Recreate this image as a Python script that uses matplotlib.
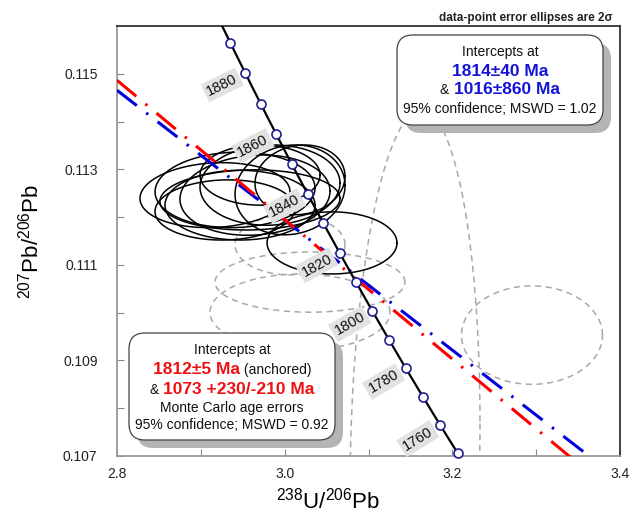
import numpy as np
import matplotlib
matplotlib.use('Agg')
import matplotlib.pyplot as plt
from matplotlib.patches import FancyBboxPatch
from matplotlib.ticker import FixedLocator, FormatStrFormatter

plt.rcParams['font.family'] = ['Liberation Sans', 'DejaVu Sans']
plt.rcParams['mathtext.fontset'] = 'custom'
plt.rcParams['mathtext.rm'] = 'Liberation Sans'

# decay constants (1/yr) and U ratio
L238 = 1.55125e-10
L235 = 9.8485e-10
U85 = 137.88

# concordia markers (Ma)
marker_ages = np.arange(1750, 1900, 10)
label_ages = [1760, 1780, 1800, 1820, 1840, 1860, 1880]

# discordia intercepts (Ma): upper, lower
blue_ages = [1814, 1016]
red_ages = [1812, 1073]

# accepted analyses: 238U/206Pb, half-width, 207Pb/206Pb, half-height, rho
ell_x = [2.9169, 2.9408, 2.9646, 2.9825, 3.0064, 2.9467, 2.9288, 2.9706, 3.0183, 2.9586, 3.0565]
ell_sx = [0.0895, 0.0954, 0.0895, 0.0835, 0.0656, 0.0895, 0.0835, 0.0716, 0.0537, 0.1074, 0.0775]
ell_y = [0.11246, 0.11257, 0.11246, 0.11267, 0.11257, 0.11225, 0.11215, 0.11288, 0.11278, 0.11236, 0.11146]
ell_sy = [0.00068, 0.00079, 0.00084, 0.00084, 0.00094, 0.00073, 0.00063, 0.00063, 0.00073, 0.00063, 0.00065]
ell_rho = [0.1, 0.05, 0.1, 0.05, 0.1, 0.0, 0.05, 0.0, 0.1, 0.05, 0.0]

# rejected analyses
rej_x = [3.1555, 3.295, 3.0064, 3.0302, 3.0183]
rej_sx = [0.0775, 0.0841, 0.0656, 0.1133, 0.1074]
rej_y = [0.10700, 0.10953, 0.11142, 0.11064, 0.11001]
rej_sy = [0.00724, 0.00103, 0.00063, 0.00063, 0.00080]
rej_rho = [0.1, 0.0, 0.0, 0.0, 0.0]


def tw(age_ma):
    t = np.asarray(age_ma, dtype=float) * 1e6
    e8 = np.exp(L238 * t) - 1
    e5 = np.exp(L235 * t) - 1
    return 1 / e8, e5 / e8 / U85


def ellipse(x, sx, y, sy, rho):
    a = np.linspace(0, 2 * np.pi, 200)
    return x + sx * np.cos(a), y + sy * (rho * np.cos(a) + np.sqrt(1 - rho ** 2) * np.sin(a))


fig = plt.figure(figsize=(6.38, 5.14), dpi=100)
ax = fig.add_axes([117 / 638, 1 - 456 / 514, 503 / 638, 430 / 514])
ax.set_xlim(2.8, 3.4)
ax.set_ylim(0.107, 0.116)

for i in range(len(rej_x)):
    ex, ey = ellipse(rej_x[i], rej_sx[i], rej_y[i], rej_sy[i], rej_rho[i])
    ax.plot(ex, ey, color='#a8a8a8', lw=1.1, ls=(0, (4, 3)), zorder=1)

for i in range(len(ell_x)):
    ex, ey = ellipse(ell_x[i], ell_sx[i], ell_y[i], ell_sy[i], ell_rho[i])
    ax.plot(ex, ey, color='black', lw=1.1, zorder=2)

# discordia lines
xs = np.linspace(2.8, 3.4, 50)
for ages, col in [(blue_ages, '#0000dd'), (red_ages, '#ff0000')]:
    x1, y1 = tw(ages[0])
    x2, y2 = tw(ages[1])
    slope = (y2 - y1) / (x2 - x1)
    ax.plot(xs, y1 + slope * (xs - x1), color=col, lw=2.2, ls=(0, (8.2, 3.9, 0.8, 3.9)), zorder=3)

# concordia
cx, cy = tw(np.linspace(1700, 1950, 300))
ax.plot(cx, cy, color='black', lw=1.6, zorder=4)
mx, my = tw(marker_ages)
ax.plot(mx, my, 'o', ms=6.5, mfc='white', mec='#202090', mew=1.2, zorder=5, clip_on=False)

for age in label_ages:
    p0 = ax.transData.transform(np.column_stack(tw(age)))[0]
    p1 = ax.transData.transform(np.column_stack(tw(age + 5)))[0]
    d = (p1 - p0) / np.hypot(*(p1 - p0))
    perp = np.array([-d[1], d[0]])
    if perp[0] > 0:
        perp = -perp
    ang = np.degrees(np.arctan2(-perp[1], -perp[0]))
    off = perp * 26 * 0.72
    ax.annotate(str(age), tw(age), xytext=off, textcoords='offset points',
                ha='center', va='center', rotation=ang, fontsize=10.5, color='#111111',
                bbox=dict(boxstyle='square,pad=0.2', fc='#e2e2e2', ec='none'), zorder=6)

ax.xaxis.set_major_locator(FixedLocator([2.8, 3.0, 3.2, 3.4]))
ax.xaxis.set_minor_locator(FixedLocator([2.9, 3.1, 3.3]))
ax.yaxis.set_major_locator(FixedLocator([0.107, 0.109, 0.111, 0.113, 0.115]))
ax.yaxis.set_minor_locator(FixedLocator([0.108, 0.110, 0.112, 0.114]))
ax.xaxis.set_major_formatter(FormatStrFormatter('%.1f'))
ax.yaxis.set_major_formatter(FormatStrFormatter('%.3f'))
ax.tick_params(which='both', direction='in', length=5, width=0.8, color='#888888',
               labelsize=10, labelcolor='#222222')
ax.tick_params(axis='y', pad=14)
ax.tick_params(axis='x', pad=8)
for s in ['left', 'bottom']:
    ax.spines[s].set_color('#999999')
for s in ['top', 'right']:
    ax.spines[s].set_color('#333333')
for s in ax.spines.values():
    s.set_linewidth(1.3)

ax.set_xlabel(r'$^{238}$U/$^{206}$Pb', fontsize=16)
ax.xaxis.set_label_coords(0.42, -0.074)
ax.set_ylabel(r'$^{207}$Pb/$^{206}$Pb', fontsize=16, labelpad=14)

fig.text(613 / 638, 1 - 18 / 514, 'data-point error ellipses are 2σ', ha='right', va='center',
         fontsize=8.5, fontweight='bold', color='#222222')

inch = fig.dpi_scale_trans


def box(x0, y0, x1, y1):
    # pixel coords from top-left
    w, h = (x1 - x0) / 100, (y1 - y0) / 100
    sh = FancyBboxPatch(((x0 + 8) / 100, (514 - y1 - 8) / 100), w, h, boxstyle='round,pad=0,rounding_size=0.16',
                        transform=inch, fc='#b4b4b4', ec='none', zorder=10)
    bx = FancyBboxPatch((x0 / 100, (514 - y1) / 100), w, h, boxstyle='round,pad=0,rounding_size=0.16',
                        transform=inch, fc='white', ec='#444444', lw=0.9, zorder=11)
    fig.patches.extend([sh, bx])


def line(xc, yc, pieces):
    r = fig.canvas.get_renderer()
    items = []
    for s, kw in pieces:
        t = fig.text(0, 0, s, transform=inch, ha='left', va='center', zorder=12, **kw)
        w = t.get_window_extent(r).width / 100
        items.append((t, w))
    x = xc / 100 - sum(w for _, w in items) / 2
    for t, w in items:
        t.set_position((x, (514 - yc) / 100))
        x += w


blk = dict(fontsize=10, color='#111111')
blue = dict(fontsize=12.5, color='#1414d8', fontweight='bold')
red = dict(fontsize=12.5, color='#ee1111', fontweight='bold')

box(397, 35, 603, 125)
line(500, 52, [('Intercepts at', blk)])
line(500, 71, [('1814±40 Ma', blue)])
line(500, 90, [('& ', blk), ('1016±860 Ma', blue)])
line(500, 109, [('95% confidence; MSWD = 1.02', blk)])

box(129, 333, 335, 440)
line(232, 350, [('Intercepts at', blk)])
line(232, 370, [('1812±5 Ma', red), (' (anchored)', blk)])
line(232, 390, [('& ', blk), ('1073 +230/-210 Ma', red)])
line(232, 408, [('Monte Carlo age errors', blk)])
line(232, 425, [('95% confidence; MSWD = 0.92', blk)])

fig.savefig('out.png', dpi=100)
